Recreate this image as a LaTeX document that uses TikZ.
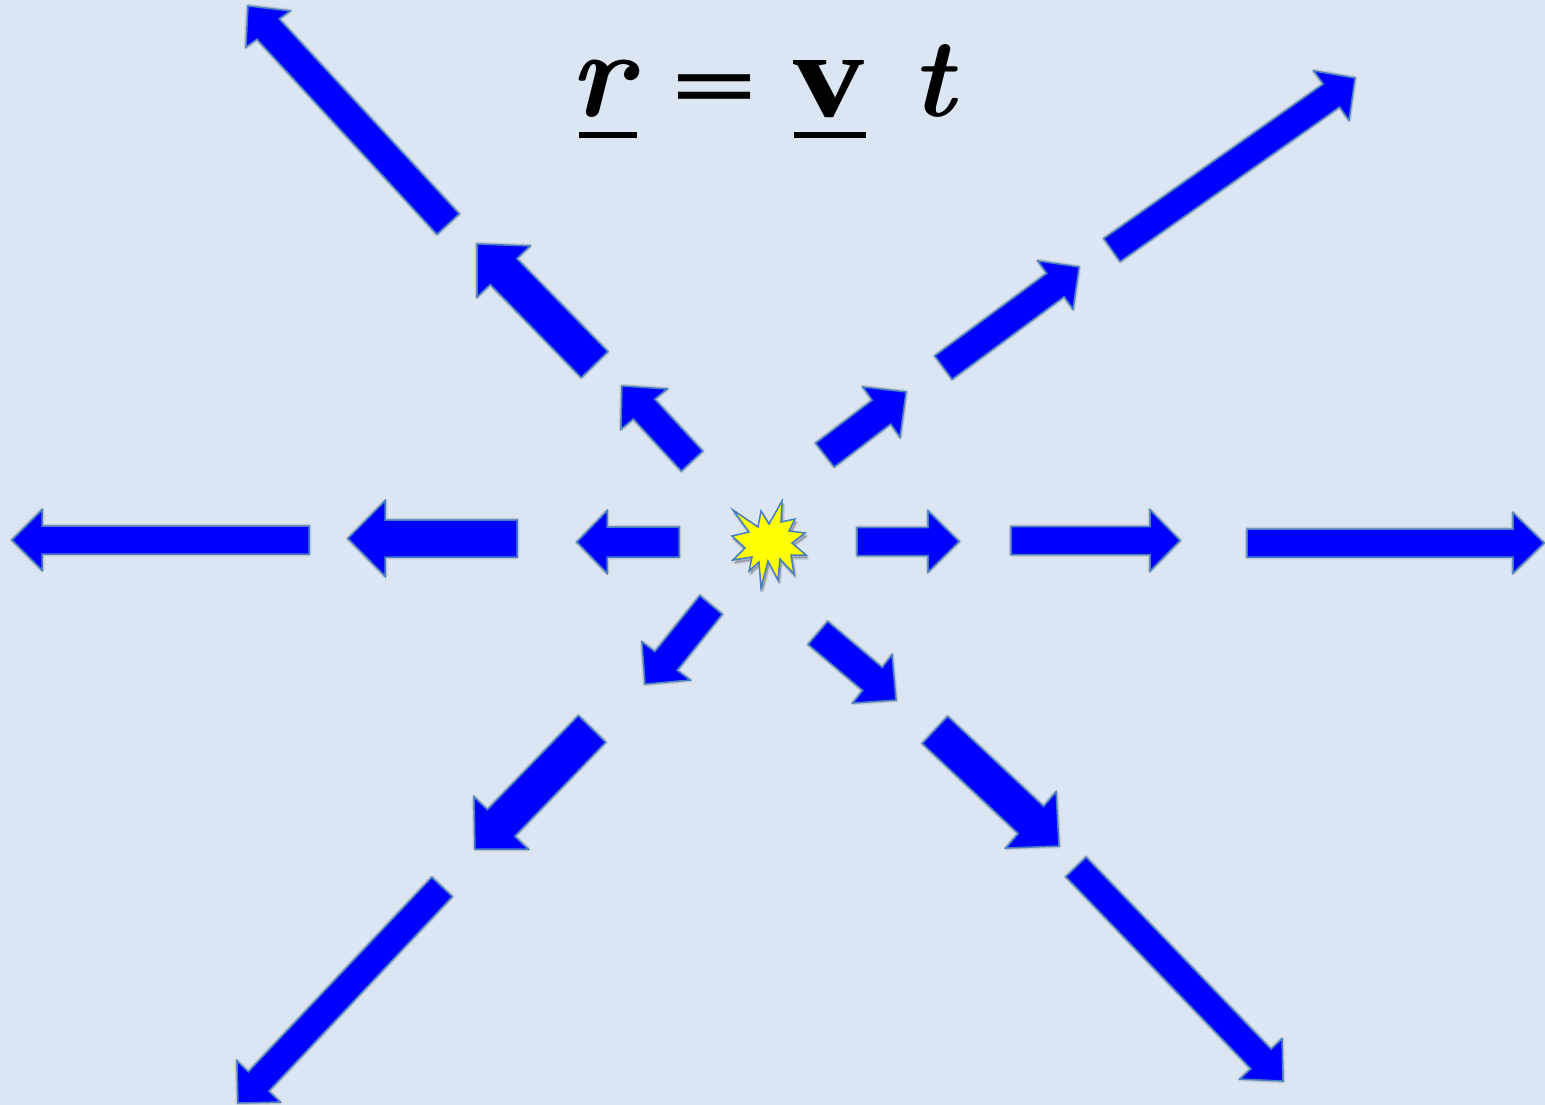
\documentclass[tikz,border=0pt]{standalone}
\usepackage{fontspec}
\setmainfont{Liberation Serif}
\newfontfamily\eqitalic{Latin Modern Roman}
\newfontfamily\eqsans{Liberation Sans}
\usetikzlibrary{calc}
\definecolor{bgblue}{RGB}{220,230,242}
\definecolor{edgeblue}{RGB}{70,125,195}
\definecolor{starfill}{RGB}{255,255,0}
\definecolor{pureblue}{RGB}{0,0,255}
\tikzset{
  blastarrow/.style={fill=pureblue,draw=edgeblue,line width=1.5pt,line join=miter},
  softshadow/.style={fill=black,draw=black,opacity=0.07,line join=round,line width=#1},
  glyph/.style={inner sep=0pt,anchor=base west,font=\fontsize{125}{125}\selectfont},
  rulebar/.style={fill=black,draw=none}
}
\newcommand{\blastarrow}[5]{%
  \coordinate (T) at (#1); \coordinate (P) at (#2);
  \coordinate (WL) at (#3); \coordinate (WR) at (#4);
  \coordinate (B) at ($(WL)!.5!(WR)$);
  \coordinate (TL) at ($(T)!#5pt!90:(P)$);
  \coordinate (TR) at ($(T)!#5pt!-90:(P)$);
  \coordinate (BL) at ($(TL)+(B)-(T)$);
  \coordinate (BR) at ($(TR)+(B)-(T)$);
  \foreach \w in {0.5pt,2pt,3.5pt,5pt}{
    \draw[softshadow=\w,shift={(1.5,3)}] (TL)--(BL)--(WL)--(P)--(WR)--(BR)--(TR)--cycle;
  }
  \draw[blastarrow] (TL)--(BL)--(WL)--(P)--(WR)--(BR)--(TR)--cycle;
}
\begin{document}
\begin{tikzpicture}[x=1pt,y=-1pt]
\useasboundingbox (0,0) rectangle (1545,1105);
\fill[bgblue] (0,0) rectangle (1545,1105);
% right
\blastarrow{857,541.5}{959,541.5}{928,511}{928,572}{14}
\blastarrow{1011,540.5}{1180,540.5}{1150,510}{1150,571}{14}
\blastarrow{1247,543}{1544,543}{1513,513}{1513,573}{14}
% left
\blastarrow{679,542}{577,542}{607,573}{607,511}{15}
\blastarrow{517,538.5}{348,538.5}{385,576}{385,501}{18.5}
\blastarrow{309,540}{12,540}{42,570}{42,510}{14}
% up-left
\blastarrow{692,461}{622,386}{621,429}{667,389}{14.5}
\blastarrow{594.5,364.5}{477,244}{477,297}{530,246}{18.5}
\blastarrow{448,224}{248,6}{246,47}{290,11}{15}
% up-right
\blastarrow{825,455}{906,392}{863,387}{900,437}{15}
\blastarrow{943.5,367.5}{1079,267}{1038,261}{1073,309}{14.5}
\blastarrow{1112,250}{1355,78}{1314,71}{1349,120}{14}
% down-left
\blastarrow{711,605}{645,684}{690,680}{642,642}{14.5}
\blastarrow{592,729}{475,849}{528,849}{474,797}{19}
\blastarrow{442,887}{238,1103}{280,1102}{237,1061}{14}
% down-right
\blastarrow{818,633}{896,700}{892,655}{853,703}{15}
\blastarrow{935,730}{1059,846}{1056,792}{1006,848}{18.5}
\blastarrow{1076,867}{1283,1081}{1282,1039}{1240,1079}{14}
% star
\def\starpath{(733,510)--(758,527)--(761,511)--(769,524)--(782,501)--(781,522)--(795,519)--(789,531)--(805,533)--(792,543)--(806,555)--(791,555)--(794,574)--(780,559)--(778,580)--(768,561)--(761,588)--(759,562)--(749,571)--(752,557)--(733,560)--(745,548)--(732,536)--(749,532)--cycle}
\foreach \w in {0.5pt,2pt,3.5pt}{
  \draw[softshadow=\w,shift={(1.5,3)}] \starpath;
}
\draw[fill=starfill,draw=edgeblue,line width=1.5pt,line join=miter] \starpath;
% equation
\node[glyph] (rr) at (569,117) {\eqitalic\bfseries\itshape r};
\node[glyph,font=\fontsize{125}{125}\selectfont\bfseries\eqsans,xscale=1.15,yscale=0.52] (eq) at (672.5,109) {=};
\node[glyph,font=\fontsize{122}{122}\selectfont\bfseries,xscale=1.16] (vv) at (793,117) {v};
\node[glyph,font=\fontsize{112}{112}\selectfont] (tt) at (911,117) {\eqitalic\bfseries\itshape t};
\fill[rulebar] (579,132) rectangle (637,138);
\fill[rulebar] (794,132) rectangle (866,138);
\end{tikzpicture}
\end{document}
